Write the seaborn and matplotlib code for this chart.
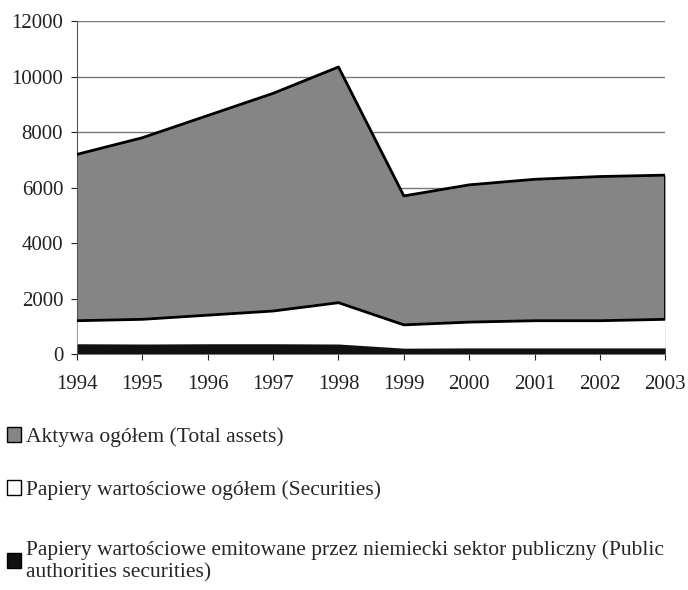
import matplotlib
matplotlib.use("Agg")
import matplotlib.pyplot as plt
from matplotlib.patches import Patch
import pandas as pd
import seaborn as sns

years = [1994, 1995, 1996, 1997, 1998, 1999, 2000, 2001, 2002, 2003]
total_assets = [7200, 7800, 8600, 9400, 10350, 5700, 6100, 6300, 6400, 6450]
securities = [1200, 1250, 1400, 1550, 1850, 1050, 1150, 1200, 1200, 1250]
public_securities = [370, 360, 370, 370, 360, 210, 220, 220, 220, 220]

labels = [
    "Aktywa ogółem (Total assets)",
    "Papiery wartościowe ogółem (Securities)",
    "Papiery wartościowe emitowane przez niemiecki sektor publiczny (Public\nauthorities securities)",
]
colors = ["#858585", "white", "#111111"]
legend_y = [0.259, 0.169, 0.049]

df = pd.DataFrame({"year": years, "total": total_assets,
                   "securities": securities, "public": public_securities})

sns.set_style("white")
plt.rcParams["font.family"] = ["Liberation Serif", "DejaVu Serif"]

fig = plt.figure(figsize=(6.88, 5.9), dpi=100)
ax = fig.add_axes([0.112, 0.4, 0.855, 0.564])

# overlapping (not stacked) areas, biggest first
ax.fill_between(df["year"], 0, df["total"], color=colors[0], lw=0, zorder=2)
ax.fill_between(df["year"], 0, df["securities"], color=colors[1], lw=0, zorder=3)
ax.fill_between(df["year"], 0, df["public"], color=colors[2], lw=0, zorder=4)
sns.lineplot(data=df, x="year", y="total", color="black", lw=2, ax=ax, zorder=5)
sns.lineplot(data=df, x="year", y="securities", color="black", lw=2, ax=ax, zorder=5)
ax.vlines(years[-1], df["securities"].iloc[-1], df["total"].iloc[-1], color="black", lw=2, zorder=5)

ax.set_xlim(years[0], years[-1])
ax.set_ylim(0, 12000)
ax.set_yticks(range(0, 12001, 2000))
ax.set_xticks(years)
ax.yaxis.grid(True, color="#777777", lw=1)
ax.set_axisbelow(True)
ax.set_xlabel("")
ax.set_ylabel("")
for s in ["top", "right", "bottom"]:
    ax.spines[s].set_visible(False)
ax.spines["left"].set_color("#555555")
ax.tick_params(axis="both", labelsize=15, colors="#222222", length=4, width=0.8,
               left=True, bottom=True, direction="out")
ax.tick_params(axis="x", pad=11)
ax.tick_params(axis="y", pad=6)
ax.axhline(0, color="#999999", lw=0.8, zorder=1)

# one legend per entry so the uneven spacing of the original can be kept
for label, color, y in zip(labels, colors, legend_y):
    fig.legend([Patch(facecolor=color, edgecolor="black", lw=1)], [label],
               loc="center left", bbox_to_anchor=(0.01, y),
               frameon=False, fontsize=15.5, handlelength=0.65,
               handleheight=0.65, handletextpad=0.25, borderaxespad=0, borderpad=0)

fig.savefig("out.png", dpi=100)
